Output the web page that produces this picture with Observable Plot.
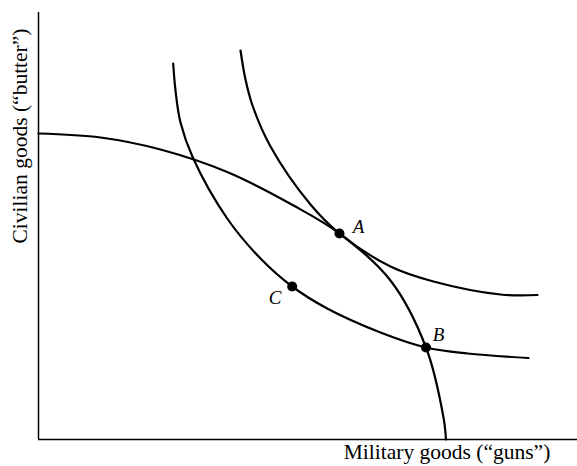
<!DOCTYPE html>
<html>
<head>
<meta charset="utf-8">
<script src="https://cdn.jsdelivr.net/npm/d3@7"></script>
<script src="https://cdn.jsdelivr.net/npm/@observablehq/plot@0.6"></script>
<style>
  html, body { margin: 0; padding: 0; background: #fff; }
  svg { display: block; }
</style>
</head>
<body>
<div id="chart"></div>
<script>
// Production possibility frontier (military goods x, civilian goods y)
const ppfX = [0, 62, 122, 188.7, 255, 301, 352, 387.5, 405, 407.5];
const ppfY = [306, 302, 290, 267.5, 234, 206, 159, 92, 22, 0];
// Higher indifference curve (tangent at A)
const u2X = [202, 207, 214, 232, 272, 301, 352, 395, 462, 499];
const u2Y = [389, 360, 334, 293, 235, 206, 173, 158, 145, 144.5];
// Lower indifference curve (through C and B)
const u1X = [134.7, 137, 142, 154.3, 188.7, 222, 253.7, 288.7, 342, 387.5, 429, 490];
const u1Y = [376, 349, 317, 282, 221, 181, 153, 131, 107, 92, 86, 81.5];
// Labelled points
const pointNames = ["A", "B", "C"];
const pointX = [301, 387.5, 253.7];
const pointY = [206, 92, 153];
const labelDx = [19, 12.5, -17];
const labelDy = [-7, -12.5, 11.5];
const xLabel = "Military goods (“guns”)";
const yLabel = "Civilian goods (“butter”)";

const curve = (xs, ys) => xs.map((x, i) => ({x, y: ys[i]}));
const pts = pointNames.map((n, i) => ({name: n, x: pointX[i], y: pointY[i], dx: labelDx[i], dy: labelDy[i]}));

const font = "'Liberation Serif', 'DejaVu Serif', serif";
const lineOpts = {x: "x", y: "y", stroke: "black", strokeWidth: 2.2, curve: "catmull-rom"};

const chart = Plot.plot({
  width: 577,
  height: 466,
  marginLeft: 38,
  marginRight: 0,
  marginTop: 12,
  marginBottom: 27,
  x: {domain: [0, 539], axis: null},
  y: {domain: [0, 427], axis: null},
  style: {fontFamily: font, background: "white"},
  marks: [
    Plot.ruleX([0], {stroke: "black", strokeWidth: 1.5}),
    Plot.ruleY([0], {stroke: "black", strokeWidth: 1.5}),
    Plot.line(curve(ppfX, ppfY), lineOpts),
    Plot.line(curve(u2X, u2Y), lineOpts),
    Plot.line(curve(u1X, u1Y), lineOpts),
    Plot.dot(pts, {x: "x", y: "y", r: 5, fill: "black", stroke: "none"}),
    ...pts.map(p => Plot.text([p], {x: "x", y: "y", text: "name", dx: p.dx, dy: p.dy,
      fontSize: 19, fontStyle: "italic", fill: "black", fontFamily: font})),
    Plot.text([xLabel], {frameAnchor: "bottom", textAnchor: "middle", lineAnchor: "middle",
      dx: 139, dy: 13, fontSize: 21.5, fill: "black", fontFamily: font}),
    Plot.text([yLabel], {frameAnchor: "left", textAnchor: "middle", lineAnchor: "middle", rotate: -90,
      dx: -18, dy: -90, fontSize: 21.5, fill: "black", fontFamily: font})
  ]
});
document.getElementById("chart").appendChild(chart);
</script>
</body>
</html>
